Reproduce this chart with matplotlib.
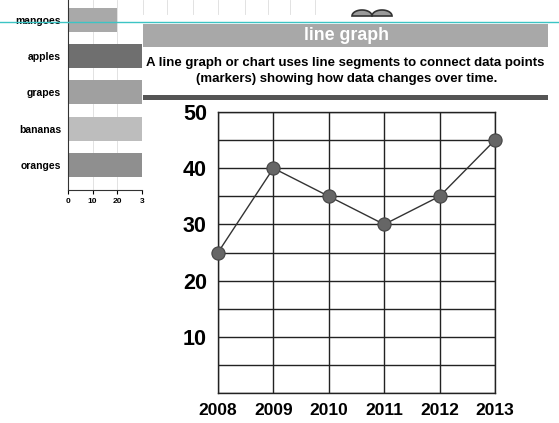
import numpy as np
import matplotlib.pyplot as plt
from matplotlib.patches import Rectangle, Polygon
from matplotlib.lines import Line2D

plt.rcParams['font.family'] = ['Liberation Sans', 'DejaVu Sans']

# line graph data
years = ['2008', '2009', '2010', '2011', '2012', '2013']
values = [25, 40, 35, 30, 35, 45]
y_ticks = [10, 20, 30, 40, 50]

# bar chart data (cropped on the right in the original)
fruits = ['oranges', 'bananas', 'grapes', 'apples', 'mangoes']
amounts = [30, 30, 30, 30, 20]
bar_colors = ['#8f8f8f', '#bdbdbd', '#a0a0a0', '#6f6f6f', '#a9a9a9']
bar_ticks = [0, 10, 20, 30]
bar_ticklabels = ['0', '10', '20', '3']

W, H = 559, 423
fig = plt.figure(figsize=(W / 100, H / 100), dpi=100)
fig.patch.set_facecolor('white')

# ---- small bar chart, top left ----
axb = fig.add_axes([68 / W, 1 - 190 / H, 74 / W, 190 / H])
pos = np.arange(len(fruits))
axb.barh(pos, amounts, height=0.66, color=bar_colors, zorder=2)
axb.set_xlim(0, 30)
axb.set_ylim(-0.69, 4.55)
axb.set_yticks(pos)
axb.set_yticklabels(fruits, fontsize=7.5, fontweight='bold')
axb.set_xticks(bar_ticks)
axb.set_xticklabels(bar_ticklabels, fontsize=6, fontweight='bold')
axb.tick_params(axis='y', length=0, pad=5)
axb.tick_params(axis='x', length=3, width=0.8, pad=3)
axb.xaxis.grid(True, color='#dddddd', linewidth=0.6, zorder=0)
for s in ['top', 'right']:
    axb.spines[s].set_visible(False)
axb.spines['left'].set_color('#333333')
axb.spines['bottom'].set_color('#333333')

# ---- main line graph ----
ax = fig.add_axes([218 / W, 30 / H, 277 / W, 281 / H])
x = np.arange(len(years))
ax.plot(x, values, color='#333333', linewidth=1.0, marker='o', markersize=9.5,
        markerfacecolor='#666666', markeredgecolor='#444444', markeredgewidth=0.8,
        zorder=3, clip_on=False)
ax.set_xlim(0, len(years) - 1)
ax.set_ylim(0, 50)
ax.set_xticks(x)
ax.set_xticklabels(years, fontsize=12.5, fontweight='bold')
ax.set_yticks(np.arange(0, 51, 5), minor=True)
ax.set_yticks(y_ticks)
ax.set_yticklabels([str(v) for v in y_ticks], fontsize=15.5, fontweight='bold')
ax.tick_params(axis='both', which='both', length=0)
ax.tick_params(axis='y', pad=8)
ax.tick_params(axis='x', pad=7)
ax.grid(True, which='both', color='#222222', linewidth=1.0)
for s in ax.spines.values():
    s.set_color('#222222')
    s.set_linewidth(1.0)

# ---- header decorations (pixel coordinates overlay) ----
ov = fig.add_axes([0, 0, 1, 1], zorder=10)
ov.set_xlim(0, W)
ov.set_ylim(H, 0)
ov.axis('off')
ov.patch.set_alpha(0)

ov.add_patch(Rectangle((143, 24), 405, 23, facecolor='#a8a8a8', edgecolor='none'))
ov.text(347, 35.5, 'line graph', color='white', fontsize=12.8, fontweight='bold',
        ha='center', va='center')
ov.text(345, 63, 'A line graph or chart uses line segments to connect data points',
        fontsize=9.5, fontweight='bold', ha='center', va='center')
ov.text(347, 79, '(markers) showing how data changes over time.',
        fontsize=9.5, fontweight='bold', ha='center', va='center')
ov.add_patch(Rectangle((143, 95), 405, 5, facecolor='#555555', edgecolor='none'))

# cyan rule across the page
ov.add_line(Line2D([0, W], [22.5, 22.5], color='#3cc4c4', linewidth=1.0))

# small bird ornament
t = np.linspace(0, np.pi, 30)
for cx in [362, 382]:
    pts = np.column_stack([cx + 10 * np.cos(t), 16 - 6 * np.sin(t)])
    ov.add_patch(Polygon(pts, closed=True, facecolor='#9a9a9a',
                         edgecolor='#333333', linewidth=1.2))

# faint ruler ticks at the top
for xt in [143, 167, 193, 218, 245, 268, 290, 315]:
    ov.add_line(Line2D([xt, xt], [0, 14], color='#dddddd', linewidth=0.6))

fig.savefig('out.png', dpi=100)
